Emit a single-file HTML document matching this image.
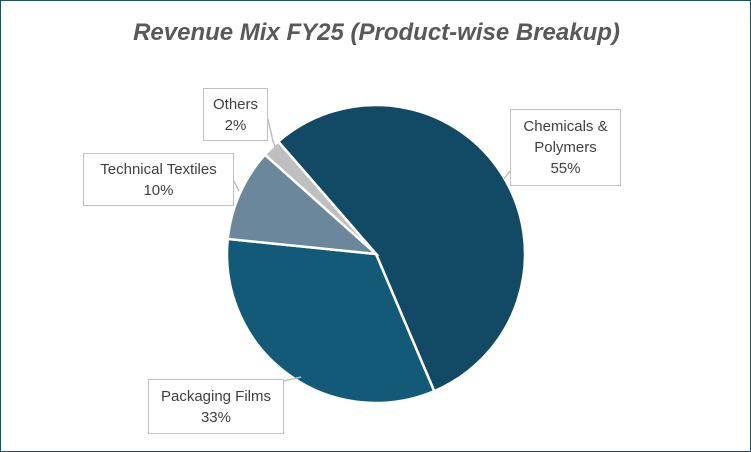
<!DOCTYPE html>
<html><head><meta charset="utf-8"><style>
body{margin:0;background:#fff;}
#c{position:relative;width:751px;height:452px;box-sizing:border-box;border:1px solid #1d4f60;font-family:"Liberation Sans",sans-serif;overflow:hidden;}
.t{position:absolute;left:0;width:751px;top:18px;text-align:center;font-size:24px;font-weight:bold;font-style:italic;color:#595959;}
.lb{position:absolute;box-sizing:border-box;border:1.5px solid #c0c0c0;background:#fff;color:#404040;font-size:15px;line-height:21px;text-align:center;display:flex;align-items:center;justify-content:center;}
</style></head><body>
<div id="c">
<div class="t">Revenue Mix FY25 (Product-wise Breakup)</div>
<svg id="pie" width="751" height="452" style="position:absolute;left:0;top:0">
<g id="lines" stroke="#c0c0c0" stroke-width="1.5" fill="none">
<polyline points="267,118 272,140 274,146"/>
<polyline points="233,180 238,190"/>
<polyline points="509,170 503,178"/>
<polyline points="283,380 300,376"/>
</g>
</svg>
<div class="lb" style="left:509px;top:108px;width:111px;height:77px">Chemicals &amp;<br>Polymers<br>55%</div>
<div class="lb" style="left:147px;top:378px;width:136px;height:55px">Packaging Films<br>33%</div>
<div class="lb" style="left:82px;top:152px;width:151px;height:53px">Technical Textiles<br>10%</div>
<div class="lb" style="left:202px;top:87px;width:65px;height:53px">Others<br>2%</div>
</div>
<script>
const categories=["Chemicals & Polymers","Packaging Films","Technical Textiles","Others"];
const values=[55,33,10,2];
const colors=["#124a66","#135a78","#6a879c","#bfbfbf"];
const svg=document.getElementById('pie');
const cx=375,cy=253,r=149,start=-41;
const total=values.reduce((a,b)=>a+b,0);
function pt(deg){const a=(deg-90)*Math.PI/180;return [cx+r*Math.cos(a),cy+r*Math.sin(a)];}
let ang=start;
const g=document.createElementNS("http://www.w3.org/2000/svg","g");
values.forEach((v,i)=>{
 const sweep=v/total*360;
 const p1=pt(ang),p2=pt(ang+sweep);
 const path=document.createElementNS("http://www.w3.org/2000/svg","path");
 path.setAttribute('d',`M${cx},${cy} L${p1[0]},${p1[1]} A${r},${r} 0 ${sweep>180?1:0} 1 ${p2[0]},${p2[1]} Z`);
 path.setAttribute('fill',colors[i]);
 path.setAttribute('stroke','#fff');
 path.setAttribute('stroke-width','2.5');
 
 
 g.appendChild(path);
 ang+=sweep;
});
svg.insertBefore(g,svg.firstChild);
</script>
</body></html>
